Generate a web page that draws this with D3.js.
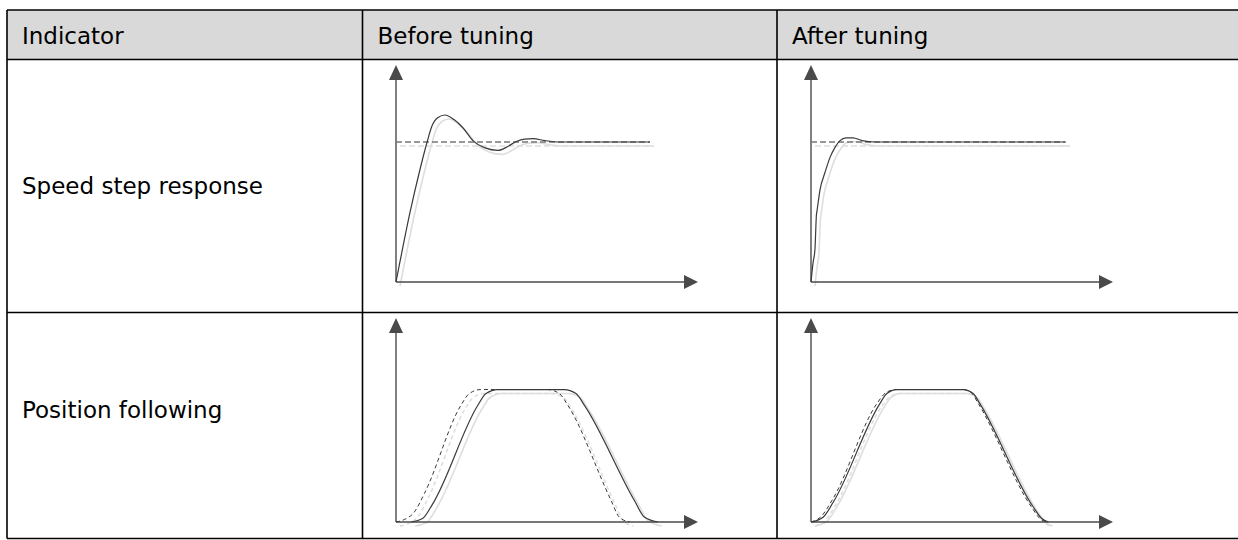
<!DOCTYPE html>
<html>
<head>
<meta charset="utf-8">
<script src="https://cdn.jsdelivr.net/npm/d3@7"></script>
<style>
  body { margin: 0; background: #fff; }
  text { font-family: "DejaVu Sans", sans-serif; fill: #000; }
</style>
</head>
<body>
<div class="table"></div>
<script>
// table text
const HEADERS = ["Indicator", "Before tuning", "After tuning"];
const ROW_LABELS = ["Speed step response", "Position following"];

// speed step response: time (0-100) vs speed (% of set point)
const SPEED_SETPOINT = [[0, 100], [84.1, 100]];
const SPEED_BEFORE = [
  [0, 0], [1.3, 14.3], [4.6, 49.3], [7.9, 80], [10.3, 100], [11.9, 111.4],
  [13.9, 117.5], [16.2, 119.3], [19.2, 116], [22.2, 110], [25.5, 101],
  [29.5, 95.8], [33.8, 94], [37, 96.8], [39.5, 100], [42.5, 102],
  [45.4, 102.4], [49.3, 101], [54.3, 100], [84.1, 100],
];
const SPEED_AFTER = [
  [0, 0], [0.7, 14], [1.3, 23], [1.8, 48], [2.0, 51], [3.0, 66],
  [4.6, 78], [6.3, 89], [7.9, 96], [9.6, 101], [11.6, 103], [13.9, 103],
  [16.9, 101], [21.2, 100], [84.4, 100],
];

// position following: time (0-100) vs position (% of target)
const POS_CMD_BEFORE = [
  [0, 0], [2.7, 1.8], [6.1, 7.6], [9.4, 21.5], [21.5, 88.1], [24.3, 97],
  [28.1, 100], [50.2, 100], [54.1, 97], [56.9, 88.1], [71.2, 16.4],
  [73.9, 3.8], [77.3, 0],
];
const POS_FB_BEFORE = [
  [5, 0], [8.8, 2.6], [12.2, 13.9], [27.1, 88.1], [29.8, 97], [33.7, 100],
  [55.7, 100], [59.6, 97], [62.4, 88.1], [78.9, 16.4], [82.2, 3.8],
  [86.7, 0],
];
const POS_CMD_AFTER = [
  [0, 0], [3.5, 4.5], [7.0, 16.5], [22.0, 90], [24.6, 97.3], [28.0, 100],
  [50.2, 100], [53.2, 97.3], [55.4, 89.4], [73.0, 11.3], [75.8, 2.6],
  [78.0, 0],
];
const POS_FB_AFTER = [
  [0.2, 0], [4.1, 3.8], [7.4, 15.1], [22.8, 89.4], [25.1, 97], [28.4, 100],
  [50.4, 100], [53.7, 97], [55.9, 89.4], [73.6, 11.3], [76.4, 2.6],
  [78.6, 0],
];

const WIDTH = 1238;
const HEIGHT = 540;
const COLS = [7, 362.5, 777, 1240];
const ROWS = [10, 59.5, 312.5, 538.5];
const FONT_SIZE = 23;
const SHADOW = "#dedede";
const AXIS = "#4a4a4a";
const LINE = "#3a3a3a";

const svg = d3
  .select(".table")
  .append("svg")
  .attr("width", WIDTH)
  .attr("height", HEIGHT);

// header band
svg
  .append("rect")
  .attr("x", COLS[0])
  .attr("y", ROWS[0])
  .attr("width", COLS[3] - COLS[0])
  .attr("height", ROWS[1] - ROWS[0])
  .attr("fill", "#d9d9d9");

const grid = svg.append("g").attr("stroke", "#000").attr("stroke-width", 1.6);
ROWS.forEach(y =>
  grid.append("line").attr("x1", COLS[0]).attr("x2", COLS[3]).attr("y1", y).attr("y2", y)
);
COLS.forEach(x =>
  grid.append("line").attr("x1", x).attr("x2", x).attr("y1", ROWS[0]).attr("y2", ROWS[3])
);

svg
  .selectAll(".head")
  .data(HEADERS)
  .join("text")
  .attr("class", "head")
  .attr("x", (d, i) => COLS[i] + 15)
  .attr("y", 44)
  .attr("font-size", FONT_SIZE)
  .text(d => d);

svg
  .selectAll(".label")
  .data(ROW_LABELS)
  .join("text")
  .attr("class", "label")
  .attr("x", COLS[0] + 15)
  .attr("y", (d, i) => [194, 418][i])
  .attr("font-size", FONT_SIZE)
  .text(d => d);

function drawChart(x0, y0, yTop, yMax, series) {
  const xScale = d3.scaleLinear().domain([0, 100]).range([x0, x0 + 302]);
  const yScale = d3.scaleLinear().domain([0, yMax]).range([y0, yTop]);
  const line = d3
    .line()
    .x(d => xScale(d[0]))
    .y(d => yScale(d[1]))
    .curve(d3.curveMonotoneX);

  const g = svg.append("g");

  // light offset copy under the traces
  g.append("g")
    .attr("transform", "translate(4,4)")
    .selectAll("path")
    .data(series)
    .join("path")
    .attr("d", d => line(d.values))
    .attr("fill", "none")
    .attr("stroke", SHADOW)
    .attr("stroke-width", 1.6)
    .attr("stroke-dasharray", d => (d.dash ? d.dash : null));

  // axes with arrow heads
  const [xa, xb] = xScale.range();
  const [ya, yb] = yScale.range();
  g.append("line")
    .attr("x1", xa).attr("x2", xb - 12)
    .attr("y1", ya).attr("y2", ya)
    .attr("stroke", AXIS).attr("stroke-width", 1.4);
  g.append("line")
    .attr("x1", xa).attr("x2", xa)
    .attr("y1", ya).attr("y2", yb + 12)
    .attr("stroke", AXIS).attr("stroke-width", 1.4);
  g.append("path")
    .attr("d", `M${xb},${ya}L${xb - 14},${ya - 7}L${xb - 14},${ya + 7}Z`)
    .attr("fill", AXIS);
  g.append("path")
    .attr("d", `M${xa},${yb}L${xa - 7},${yb + 15}L${xa + 7},${yb + 15}Z`)
    .attr("fill", AXIS);

  g.append("g")
    .selectAll("path")
    .data(series)
    .join("path")
    .attr("d", d => line(d.values))
    .attr("fill", "none")
    .attr("stroke", d => d.color)
    .attr("stroke-width", d => d.width)
    .attr("stroke-dasharray", d => (d.dash ? d.dash : null));
}

const setpoint = { values: SPEED_SETPOINT, color: "#777", width: 1.6, dash: "6,3" };

drawChart(396, 282, 65, 155, [
  setpoint,
  { values: SPEED_BEFORE, color: LINE, width: 1.2 },
]);
drawChart(811, 282, 65, 155, [
  setpoint,
  { values: SPEED_AFTER, color: LINE, width: 1.2 },
]);
drawChart(396, 522, 318, 154, [
  { values: POS_CMD_BEFORE, color: LINE, width: 1, dash: "4,3" },
  { values: POS_FB_BEFORE, color: LINE, width: 1.2 },
]);
drawChart(811, 522, 318, 154, [
  { values: POS_CMD_AFTER, color: LINE, width: 1, dash: "4,3" },
  { values: POS_FB_AFTER, color: LINE, width: 1.2 },
]);
</script>
</body>
</html>
